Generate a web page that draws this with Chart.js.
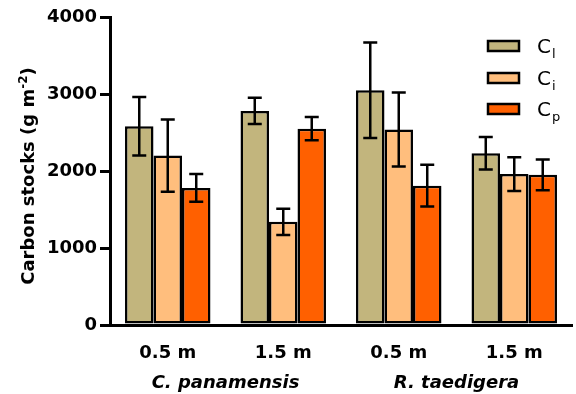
<!DOCTYPE html>
<html>
<head>
<meta charset="utf-8">
<script src="https://cdn.jsdelivr.net/npm/chart.js@4.4.0/dist/chart.umd.min.js"></script>
<style>
  html, body { margin: 0; padding: 0; background: #fff; }
  #wrap { width: 576px; height: 394px; }
</style>
</head>
<body>
<div id="wrap"><canvas id="myChart" width="576" height="394"></canvas></div>
<script>
"use strict"
// Daten
const depths = ["0.5 m", "1.5 m", "0.5 m", "1.5 m"];
const species = ["C. panamensis", "R. taedigera"]; // je 2 Kategorien
const seriesNames = ["Cl", "Ci", "Cp"];
const seriesSubs = ["l", "i", "p"]; // Index im Legendentext
const cl = [2580, 2780, 3050, 2230];
const ci = [2200, 1340, 2540, 1960];
const cp = [1780, 2550, 1810, 1950];
const clErr = [380, 170, 620, 210];
const ciErr = [470, 170, 480, 220];
const cpErr = [180, 150, 270, 200];
const yTicks = [0, 1000, 2000, 3000, 4000];

const colors = ["#c2b57d", "#ffbe7d", "#ff6000"];
const FONT = "'DejaVu Sans', sans-serif";

// Fehlerbalken zeichnen
const errorBars = {
    id: "errorBars",
    afterDatasetsDraw(chart) {
        const ctx = chart.ctx;
        const y = chart.scales.y;
        ctx.save();
        ctx.strokeStyle = "#000";
        ctx.lineWidth = 2.5;
        chart.data.datasets.forEach(function (ds, di) {
            const meta = chart.getDatasetMeta(di);
            meta.data.forEach(function (bar, i) {
                const v = ds.data[i];
                const e = ds.err[i];
                const yt = y.getPixelForValue(v + e);
                const yb = y.getPixelForValue(v - e);
                const cap = 7;
                ctx.beginPath();
                ctx.moveTo(bar.x, yt); ctx.lineTo(bar.x, yb);
                ctx.moveTo(bar.x - cap, yt); ctx.lineTo(bar.x + cap, yt);
                ctx.moveTo(bar.x - cap, yb); ctx.lineTo(bar.x + cap, yb);
                ctx.stroke();
            });
        });
        ctx.restore();
    }
};

// Achsentitel, Artnamen und Legende
const extras = {
    id: "extras",
    afterDraw(chart) {
        const ctx = chart.ctx;
        const x = chart.scales.x;
        ctx.save();
        ctx.fillStyle = "#000";

        // Artnamen unter je zwei Kategorien
        ctx.font = "italic bold 18px " + FONT;
        ctx.textAlign = "center";
        ctx.textBaseline = "alphabetic";
        species.forEach(function (s, k) {
            const cx = (x.getPixelForValue(2 * k) + x.getPixelForValue(2 * k + 1)) / 2;
            ctx.fillText(s, cx, 388);
        });

        // y-Achsentitel mit Hochstellung
        ctx.translate(34, 176);
        ctx.rotate(-Math.PI / 2);
        const main = "Carbon stocks (g m";
        ctx.font = "bold 18px " + FONT;
        const w1 = ctx.measureText(main).width;
        ctx.font = "bold 12px " + FONT;
        const w2 = ctx.measureText("-2").width;
        ctx.font = "bold 18px " + FONT;
        const w3 = ctx.measureText(")").width;
        let sx = -(w1 + w2 + w3) / 2;
        ctx.textAlign = "left";
        ctx.fillText(main, sx, 0);
        ctx.font = "bold 12px " + FONT;
        ctx.fillText("-2", sx + w1, -7);
        ctx.font = "bold 18px " + FONT;
        ctx.fillText(")", sx + w1 + w2, 0);
        ctx.restore();

        // Legende
        ctx.save();
        const rows = [46, 78, 109];
        chart.data.datasets.forEach(function (ds, di) {
            const cy = rows[di];
            ctx.fillStyle = ds.backgroundColor;
            ctx.fillRect(488, cy - 5, 31, 10);
            ctx.strokeStyle = "#000";
            ctx.lineWidth = 2.5;
            ctx.strokeRect(488, cy - 5, 31, 10);
            ctx.fillStyle = "#000";
            ctx.textAlign = "left";
            ctx.textBaseline = "alphabetic";
            ctx.font = "20px " + FONT;
            ctx.fillText("C", 537, cy + 7);
            ctx.font = "13px " + FONT;
            ctx.fillText(seriesSubs[di], 552, cy + 12);
        });
        ctx.restore();
    }
};

const datasets = [cl, ci, cp].map(function (vals, k) {
    return {
        label: seriesNames[k],
        data: vals,
        err: [clErr, ciErr, cpErr][k],
        backgroundColor: colors[k],
        borderColor: "#000",
        borderWidth: 2.5,
        borderSkipped: false,
        categoryPercentage: 0.74,
        barPercentage: 1.0
    };
});

new Chart(document.getElementById("myChart"), {
    type: "bar",
    data: { labels: depths, datasets: datasets },
    plugins: [errorBars, extras],
    options: {
        responsive: false,
        animation: false,
        layout: { padding: { top: 17, right: 4, left: 0, bottom: 0 } },
        plugins: { legend: { display: false }, tooltip: { enabled: false } },
        scales: {
            x: {
                grid: { display: false },
                border: { display: true, color: "#000", width: 3 },
                ticks: { color: "#000", font: { family: FONT, size: 18, weight: "bold" }, padding: 10, maxRotation: 0 },
                afterFit(scale) { scale.height = 69; }
            },
            y: {
                min: 0, max: 4000,
                afterBuildTicks(scale) { scale.ticks = yTicks.map(function (v) { return { value: v }; }); },
                grid: { drawOnChartArea: false, drawTicks: true, tickLength: 10, color: "#000", lineWidth: 3 },
                border: { display: true, color: "#000", width: 3 },
                ticks: { color: "#000", font: { family: FONT, size: 18, weight: "bold" }, padding: 3,
                         callback: function (v) { return String(v); } },
                afterFit(scale) { scale.width = 110; }
            }
        }
    }
});
</script>
</body>
</html>
